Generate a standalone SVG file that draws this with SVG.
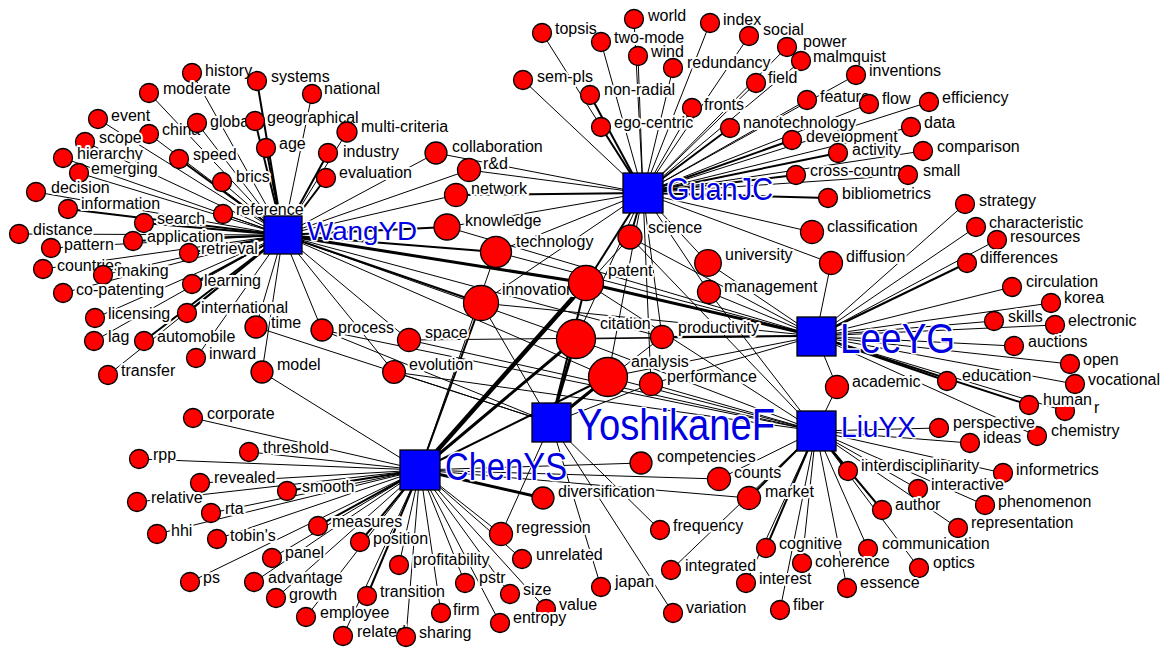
<svg xmlns="http://www.w3.org/2000/svg" width="1168" height="649" viewBox="0 0 1168 649">
<style>
  .bg { fill:#fff; }
  #connectors line { stroke:#000; stroke-width:1; }
  #connectors line.w2 { stroke-width:2; }
  #connectors line.w3 { stroke-width:3; }
  #connectors line.w4 { stroke-width:4.5; }
  .k circle { fill:#ff0000; stroke:#000; stroke-width:1.3; }
  .k text { font-family:"Liberation Sans", Arial, sans-serif; font-size:16px; fill:#000;
            stroke:#fff; stroke-width:4; stroke-linejoin:round; paint-order:stroke; }
  .a rect { fill:#0000ff; stroke:#000; stroke-width:1.3; }
  .a text { font-family:"Liberation Sans", Arial, sans-serif; fill:#0000e0;
            stroke:#fff; stroke-width:3; stroke-linejoin:round; paint-order:stroke; }
</style>
<rect class="bg" width="1168" height="649"/>

<!-- author-keyword links -->
<g id="connectors">
  <!-- WangYD -->
  <line x1="283" y1="235" x2="192" y2="73"/>
  <line class="w2" x1="283" y1="235" x2="257" y2="81"/>
  <line x1="283" y1="235" x2="312" y2="94"/>
  <line x1="283" y1="235" x2="149" y2="93"/>
  <line x1="283" y1="235" x2="98" y2="119"/>
  <line x1="283" y1="235" x2="149" y2="134"/>
  <line x1="283" y1="235" x2="197" y2="123"/>
  <line class="w2" x1="283" y1="235" x2="255" y2="121"/>
  <line x1="283" y1="235" x2="85" y2="142"/>
  <line x1="283" y1="235" x2="347" y2="132"/>
  <line class="w2" x1="283" y1="235" x2="266" y2="148"/>
  <line class="w2" x1="283" y1="235" x2="328" y2="153"/>
  <line x1="283" y1="235" x2="63" y2="158"/>
  <line class="w2" x1="283" y1="235" x2="179" y2="159"/>
  <line x1="283" y1="235" x2="79" y2="173"/>
  <line class="w2" x1="283" y1="235" x2="326" y2="178"/>
  <line x1="283" y1="235" x2="222" y2="182"/>
  <line x1="283" y1="235" x2="36" y2="192"/>
  <line class="w2" x1="283" y1="235" x2="68" y2="209"/>
  <line x1="283" y1="235" x2="223" y2="214"/>
  <line class="w2" x1="283" y1="235" x2="144" y2="223"/>
  <line x1="283" y1="235" x2="19" y2="234"/>
  <line class="w2" x1="283" y1="235" x2="133" y2="241"/>
  <line x1="283" y1="235" x2="51" y2="248"/>
  <line class="w2" x1="283" y1="235" x2="189" y2="253"/>
  <line x1="283" y1="235" x2="43" y2="269"/>
  <line x1="283" y1="235" x2="103" y2="275"/>
  <line class="w2" x1="283" y1="235" x2="192" y2="284"/>
  <line x1="283" y1="235" x2="63" y2="293"/>
  <line class="w2" x1="283" y1="235" x2="187" y2="313"/>
  <line x1="283" y1="235" x2="95" y2="318"/>
  <line x1="283" y1="235" x2="256" y2="327"/>
  <line x1="283" y1="235" x2="94" y2="341"/>
  <line class="w2" x1="283" y1="235" x2="144" y2="341"/>
  <line x1="283" y1="235" x2="196" y2="358"/>
  <line x1="283" y1="235" x2="262" y2="372"/>
  <line x1="283" y1="235" x2="108" y2="375"/>
  <line x1="283" y1="235" x2="436" y2="153"/>
  <line x1="283" y1="235" x2="469" y2="170"/>
  <line x1="283" y1="235" x2="456" y2="195"/>
  <line class="w2" x1="283" y1="235" x2="447" y2="227"/>
  <line class="w2" x1="283" y1="235" x2="496" y2="252"/>
  <line class="w2" x1="283" y1="235" x2="481" y2="303"/>
  <line class="w3" x1="283" y1="235" x2="586" y2="283"/>
  <line x1="283" y1="235" x2="322" y2="330"/>
  <line x1="283" y1="235" x2="409" y2="340"/>
  <line x1="283" y1="235" x2="576" y2="339"/>
  <line x1="283" y1="235" x2="394" y2="372"/>
  <line x1="283" y1="235" x2="608" y2="377"/>
  <line x1="283" y1="235" x2="662" y2="337"/>
  <!-- GuanJC -->
  <line x1="643" y1="193" x2="634" y2="19"/>
  <line x1="643" y1="193" x2="710" y2="23"/>
  <line x1="643" y1="193" x2="542" y2="33"/>
  <line x1="643" y1="193" x2="601" y2="42"/>
  <line x1="643" y1="193" x2="749" y2="36"/>
  <line x1="643" y1="193" x2="787" y2="47"/>
  <line x1="643" y1="193" x2="638" y2="56"/>
  <line x1="643" y1="193" x2="801" y2="61"/>
  <line x1="643" y1="193" x2="673" y2="68"/>
  <line x1="643" y1="193" x2="856" y2="75"/>
  <line x1="643" y1="193" x2="523" y2="80"/>
  <line x1="643" y1="193" x2="756" y2="83"/>
  <line class="w2" x1="643" y1="193" x2="590" y2="95"/>
  <line x1="643" y1="193" x2="807" y2="100"/>
  <line x1="643" y1="193" x2="869" y2="104"/>
  <line x1="643" y1="193" x2="929" y2="102"/>
  <line x1="643" y1="193" x2="692" y2="108"/>
  <line class="w2" x1="643" y1="193" x2="601" y2="127"/>
  <line class="w2" x1="643" y1="193" x2="730" y2="128"/>
  <line x1="643" y1="193" x2="911" y2="127"/>
  <line class="w2" x1="643" y1="193" x2="792" y2="140"/>
  <line class="w2" x1="643" y1="193" x2="838" y2="153"/>
  <line x1="643" y1="193" x2="923" y2="151"/>
  <line class="w2" x1="643" y1="193" x2="796" y2="175"/>
  <line x1="643" y1="193" x2="908" y2="175"/>
  <line class="w2" x1="643" y1="193" x2="828" y2="198"/>
  <line x1="643" y1="193" x2="436" y2="153"/>
  <line x1="643" y1="193" x2="469" y2="170"/>
  <line class="w2" x1="643" y1="193" x2="456" y2="195"/>
  <line x1="643" y1="193" x2="447" y2="227"/>
  <line x1="643" y1="193" x2="496" y2="252"/>
  <line x1="643" y1="193" x2="481" y2="303"/>
  <line class="w2" x1="643" y1="193" x2="586" y2="283"/>
  <line class="w2" x1="643" y1="193" x2="630" y2="237"/>
  <line x1="643" y1="193" x2="708" y2="263"/>
  <line x1="643" y1="193" x2="709" y2="292"/>
  <line x1="643" y1="193" x2="576" y2="339"/>
  <line x1="643" y1="193" x2="662" y2="337"/>
  <line x1="643" y1="193" x2="608" y2="377"/>
  <line x1="643" y1="193" x2="812" y2="232"/>
  <line x1="643" y1="193" x2="831" y2="263"/>
  <line x1="643" y1="193" x2="651" y2="384"/>
  <!-- LeeYG -->
  <line x1="816" y1="336" x2="965" y2="204"/>
  <line x1="816" y1="336" x2="976" y2="227"/>
  <line x1="816" y1="336" x2="997" y2="240"/>
  <line class="w2" x1="816" y1="336" x2="967" y2="263"/>
  <line x1="816" y1="336" x2="1012" y2="287"/>
  <line x1="816" y1="336" x2="1051" y2="303"/>
  <line x1="816" y1="336" x2="994" y2="321"/>
  <line x1="816" y1="336" x2="1055" y2="325"/>
  <line x1="816" y1="336" x2="1014" y2="346"/>
  <line x1="816" y1="336" x2="1070" y2="364"/>
  <line class="w2" x1="816" y1="336" x2="947" y2="381"/>
  <line x1="816" y1="336" x2="1075" y2="384"/>
  <line class="w2" x1="816" y1="336" x2="1029" y2="405"/>
  <line x1="816" y1="336" x2="1065" y2="411"/>
  <line x1="816" y1="336" x2="1037" y2="436"/>
  <line x1="816" y1="336" x2="837" y2="387"/>
  <line x1="816" y1="336" x2="831" y2="263"/>
  <line x1="816" y1="336" x2="708" y2="263"/>
  <line x1="816" y1="336" x2="709" y2="292"/>
  <line class="w2" x1="816" y1="336" x2="662" y2="337"/>
  <line class="w3" x1="816" y1="336" x2="586" y2="283"/>
  <line x1="816" y1="336" x2="481" y2="303"/>
  <line x1="816" y1="336" x2="496" y2="252"/>
  <line x1="816" y1="336" x2="447" y2="227"/>
  <line x1="816" y1="336" x2="576" y2="339"/>
  <line x1="816" y1="336" x2="608" y2="377"/>
  <line x1="816" y1="336" x2="630" y2="237"/>
  <line x1="816" y1="336" x2="651" y2="384"/>
  <line x1="816" y1="336" x2="409" y2="340"/>
  <!-- LiuYX -->
  <line x1="816" y1="431" x2="939" y2="428"/>
  <line x1="816" y1="431" x2="970" y2="443"/>
  <line class="w2" x1="816" y1="431" x2="848" y2="471"/>
  <line x1="816" y1="431" x2="1003" y2="473"/>
  <line x1="816" y1="431" x2="918" y2="489"/>
  <line x1="816" y1="431" x2="985" y2="505"/>
  <line class="w2" x1="816" y1="431" x2="882" y2="510"/>
  <line x1="816" y1="431" x2="958" y2="528"/>
  <line x1="816" y1="431" x2="868" y2="549"/>
  <line x1="816" y1="431" x2="802" y2="563"/>
  <line x1="816" y1="431" x2="919" y2="568"/>
  <line x1="816" y1="431" x2="847" y2="588"/>
  <line class="w2" x1="816" y1="431" x2="766" y2="548"/>
  <line x1="816" y1="431" x2="746" y2="583"/>
  <line x1="816" y1="431" x2="780" y2="610"/>
  <line x1="816" y1="431" x2="671" y2="570"/>
  <line class="w2" x1="816" y1="431" x2="749" y2="498"/>
  <line x1="816" y1="431" x2="719" y2="479"/>
  <line x1="816" y1="431" x2="837" y2="387"/>
  <line x1="816" y1="431" x2="409" y2="340"/>
  <line x1="816" y1="431" x2="394" y2="372"/>
  <line x1="816" y1="431" x2="586" y2="283"/>
  <line x1="816" y1="431" x2="576" y2="339"/>
  <line x1="816" y1="431" x2="608" y2="377"/>
  <line x1="816" y1="431" x2="630" y2="237"/>
  <line x1="816" y1="431" x2="651" y2="384"/>
  <line x1="816" y1="431" x2="709" y2="292"/>
  <line x1="816" y1="431" x2="322" y2="330"/>
  <!-- ChenYS -->
  <line x1="420" y1="470" x2="641" y2="463"/>
  <line x1="420" y1="470" x2="719" y2="479"/>
  <line x1="420" y1="470" x2="749" y2="498"/>
  <line class="w3" x1="420" y1="470" x2="543" y2="498"/>
  <line x1="420" y1="470" x2="501" y2="534"/>
  <line x1="420" y1="470" x2="522" y2="559"/>
  <line x1="420" y1="470" x2="193" y2="418"/>
  <line x1="420" y1="470" x2="249" y2="452"/>
  <line x1="420" y1="470" x2="139" y2="459"/>
  <line x1="420" y1="470" x2="200" y2="483"/>
  <line class="w2" x1="420" y1="470" x2="287" y2="491"/>
  <line x1="420" y1="470" x2="137" y2="502"/>
  <line x1="420" y1="470" x2="211" y2="513"/>
  <line class="w2" x1="420" y1="470" x2="318" y2="526"/>
  <line x1="420" y1="470" x2="157" y2="534"/>
  <line x1="420" y1="470" x2="217" y2="539"/>
  <line class="w2" x1="420" y1="470" x2="360" y2="542"/>
  <line x1="420" y1="470" x2="272" y2="558"/>
  <line x1="420" y1="470" x2="399" y2="565"/>
  <line x1="420" y1="470" x2="190" y2="582"/>
  <line x1="420" y1="470" x2="254" y2="582"/>
  <line x1="420" y1="470" x2="465" y2="583"/>
  <line x1="420" y1="470" x2="510" y2="594"/>
  <line class="w2" x1="420" y1="470" x2="367" y2="596"/>
  <line x1="420" y1="470" x2="276" y2="598"/>
  <line x1="420" y1="470" x2="546" y2="609"/>
  <line x1="420" y1="470" x2="441" y2="613"/>
  <line x1="420" y1="470" x2="306" y2="617"/>
  <line x1="420" y1="470" x2="500" y2="623"/>
  <line x1="420" y1="470" x2="343" y2="636"/>
  <line x1="420" y1="470" x2="406" y2="637"/>
  <line x1="420" y1="470" x2="262" y2="372"/>
  <line x1="420" y1="470" x2="496" y2="252"/>
  <line class="w2" x1="420" y1="470" x2="481" y2="303"/>
  <line class="w4" x1="420" y1="470" x2="586" y2="283"/>
  <line class="w3" x1="420" y1="470" x2="576" y2="339"/>
  <line class="w2" x1="420" y1="470" x2="608" y2="377"/>
  <line x1="420" y1="470" x2="630" y2="237"/>
  <!-- YoshikaneF -->
  <line x1="551" y1="423" x2="256" y2="327"/>
  <line x1="551" y1="423" x2="322" y2="330"/>
  <line x1="551" y1="423" x2="481" y2="303"/>
  <line class="w2" x1="551" y1="423" x2="586" y2="283"/>
  <line class="w3" x1="551" y1="423" x2="576" y2="339"/>
  <line class="w3" x1="551" y1="423" x2="608" y2="377"/>
  <line x1="551" y1="423" x2="651" y2="384"/>
  <line x1="551" y1="423" x2="662" y2="337"/>
  <line x1="551" y1="423" x2="660" y2="530"/>
  <line x1="551" y1="423" x2="601" y2="587"/>
  <line x1="551" y1="423" x2="673" y2="613"/>
  <line x1="551" y1="423" x2="501" y2="534"/>
  <line x1="551" y1="423" x2="394" y2="372"/>
</g>

<!-- keyword nodes -->
<g id="n-history" class="k"><circle cx="192" cy="73" r="9.5"/><text x="205" y="76">history</text></g>
<g id="n-systems" class="k"><circle cx="257" cy="81" r="9.5"/><text x="271" y="82">systems</text></g>
<g id="n-national" class="k"><circle cx="312" cy="94" r="9.5"/><text x="324" y="94">national</text></g>
<g id="n-moderate" class="k"><circle cx="149" cy="93" r="9.5"/><text x="163" y="94">moderate</text></g>
<g id="n-event" class="k"><circle cx="98" cy="119" r="9.5"/><text x="111" y="121">event</text></g>
<g id="n-china" class="k"><circle cx="149" cy="134" r="9.5"/><text x="162" y="135">china</text></g>
<g id="n-global" class="k"><circle cx="197" cy="123" r="9.5"/><text x="210" y="127">global</text></g>
<g id="n-geographical" class="k"><circle cx="255" cy="121" r="9.5"/><text x="267" y="123">geographical</text></g>
<g id="n-scope" class="k"><circle cx="85" cy="142" r="9.5"/><text x="99" y="143">scope</text></g>
<g id="n-multi-criteria" class="k"><circle cx="347" cy="132" r="10"/><text x="361" y="132">multi-criteria</text></g>
<g id="n-age" class="k"><circle cx="266" cy="148" r="9.5"/><text x="279" y="149">age</text></g>
<g id="n-industry" class="k"><circle cx="328" cy="153" r="9.5"/><text x="343" y="157">industry</text></g>
<g id="n-hierarchy" class="k"><circle cx="63" cy="158" r="9.5"/><text x="77" y="159">hierarchy</text></g>
<g id="n-speed" class="k"><circle cx="179" cy="159" r="9.5"/><text x="193" y="160">speed</text></g>
<g id="n-emerging" class="k"><circle cx="79" cy="173" r="9.5"/><text x="91" y="174">emerging</text></g>
<g id="n-evaluation" class="k"><circle cx="326" cy="178" r="9.5"/><text x="339" y="178">evaluation</text></g>
<g id="n-brics" class="k"><circle cx="222" cy="182" r="9.5"/><text x="236" y="182">brics</text></g>
<g id="n-decision" class="k"><circle cx="36" cy="192" r="9.5"/><text x="51" y="193">decision</text></g>
<g id="n-information" class="k"><circle cx="68" cy="209" r="9.5"/><text x="81" y="209">information</text></g>
<g id="n-reference" class="k"><circle cx="223" cy="214" r="9.5"/><text x="236" y="215">reference</text></g>
<g id="n-search" class="k"><circle cx="144" cy="223" r="9.5"/><text x="157" y="224">search</text></g>
<g id="n-distance" class="k"><circle cx="19" cy="234" r="9.5"/><text x="33" y="235">distance</text></g>
<g id="n-application" class="k"><circle cx="133" cy="241" r="9.5"/><text x="147" y="242">application</text></g>
<g id="n-pattern" class="k"><circle cx="51" cy="248" r="9.5"/><text x="64" y="250">pattern</text></g>
<g id="n-retrieval" class="k"><circle cx="189" cy="253" r="9.5"/><text x="201" y="254">retrieval</text></g>
<g id="n-countries" class="k"><circle cx="43" cy="269" r="9.5"/><text x="57" y="271">countries</text></g>
<g id="n-making" class="k"><circle cx="103" cy="275" r="9.5"/><text x="117" y="276">making</text></g>
<g id="n-learning" class="k"><circle cx="192" cy="284" r="9.5"/><text x="204" y="286">learning</text></g>
<g id="n-co-patenting" class="k"><circle cx="63" cy="293" r="9.5"/><text x="76" y="295">co-patenting</text></g>
<g id="n-international" class="k"><circle cx="187" cy="313" r="9.5"/><text x="201" y="313">international</text></g>
<g id="n-licensing" class="k"><circle cx="95" cy="318" r="9.5"/><text x="108" y="319">licensing</text></g>
<g id="n-time" class="k"><circle cx="256" cy="327" r="11"/><text x="271" y="328">time</text></g>
<g id="n-lag" class="k"><circle cx="94" cy="341" r="9.5"/><text x="108" y="342">lag</text></g>
<g id="n-automobile" class="k"><circle cx="144" cy="341" r="9.5"/><text x="157" y="342">automobile</text></g>
<g id="n-inward" class="k"><circle cx="196" cy="358" r="9.5"/><text x="209" y="359">inward</text></g>
<g id="n-model" class="k"><circle cx="262" cy="372" r="11"/><text x="277" y="370">model</text></g>
<g id="n-transfer" class="k"><circle cx="108" cy="375" r="9.5"/><text x="121" y="376">transfer</text></g>

<g id="n-collaboration" class="k"><circle cx="436" cy="153" r="11"/><text x="452" y="152">collaboration</text></g>
<g id="n-rd" class="k"><circle cx="469" cy="170" r="11.5"/><text x="483" y="169">r&amp;d</text></g>
<g id="n-network" class="k"><circle cx="456" cy="195" r="11.5"/><text x="471" y="194">network</text></g>
<g id="n-knowledge" class="k"><circle cx="447" cy="227" r="13"/><text x="465" y="226">knowledge</text></g>
<g id="n-technology" class="k"><circle cx="496" cy="252" r="15.5"/><text x="516" y="247">technology</text></g>
<g id="n-innovation" class="k"><circle cx="481" cy="303" r="17.5"/><text x="502" y="295">innovation</text></g>
<g id="n-patent" class="k"><circle cx="586" cy="283" r="17.5"/><text x="608" y="276">patent</text></g>
<g id="n-science" class="k"><circle cx="630" cy="237" r="12"/><text x="648" y="233">science</text></g>
<g id="n-university" class="k"><circle cx="708" cy="263" r="13.3"/><text x="725" y="260">university</text></g>
<g id="n-management" class="k"><circle cx="709" cy="292" r="11.5"/><text x="724" y="292">management</text></g>
<g id="n-process" class="k"><circle cx="322" cy="330" r="11"/><text x="338" y="333">process</text></g>
<g id="n-space" class="k"><circle cx="409" cy="340" r="11.5"/><text x="425" y="338">space</text></g>
<g id="n-citation" class="k"><circle cx="576" cy="339" r="19.5"/><text x="600" y="329">citation</text></g>
<g id="n-productivity" class="k"><circle cx="662" cy="337" r="11.5"/><text x="678" y="333">productivity</text></g>
<g id="n-evolution" class="k"><circle cx="394" cy="372" r="11.3"/><text x="409" y="370">evolution</text></g>
<g id="n-analysis" class="k"><circle cx="608" cy="377" r="19.5"/><text x="631" y="367">analysis</text></g>
<g id="n-performance" class="k"><circle cx="651" cy="384" r="11.5"/><text x="667" y="382">performance</text></g>
<g id="n-classification" class="k"><circle cx="812" cy="232" r="11.5"/><text x="827" y="232">classification</text></g>
<g id="n-diffusion" class="k"><circle cx="831" cy="263" r="11.5"/><text x="846" y="262">diffusion</text></g>
<g id="n-academic" class="k"><circle cx="837" cy="387" r="11.5"/><text x="852" y="387">academic</text></g>

<g id="n-world" class="k"><circle cx="634" cy="19" r="9.5"/><text x="648" y="21">world</text></g>
<g id="n-index" class="k"><circle cx="710" cy="23" r="9.5"/><text x="723" y="25">index</text></g>
<g id="n-topsis" class="k"><circle cx="542" cy="33" r="9.5"/><text x="555" y="34">topsis</text></g>
<g id="n-two-mode" class="k"><circle cx="601" cy="42" r="9.5"/><text x="614" y="43">two-mode</text></g>
<g id="n-power" class="k"><circle cx="787" cy="47" r="9.5"/><text x="803" y="47">power</text></g>
<g id="n-social" class="k"><circle cx="749" cy="36" r="9.5"/><text x="763" y="35">social</text></g>
<g id="n-wind" class="k"><circle cx="638" cy="56" r="9.5"/><text x="651" y="57">wind</text></g>
<g id="n-malmquist" class="k"><circle cx="801" cy="61" r="9.5"/><text x="813" y="62">malmquist</text></g>
<g id="n-redundancy" class="k"><circle cx="673" cy="68" r="9.5"/><text x="687" y="68">redundancy</text></g>
<g id="n-inventions" class="k"><circle cx="856" cy="75" r="9.5"/><text x="869" y="76">inventions</text></g>
<g id="n-sem-pls" class="k"><circle cx="523" cy="80" r="9.5"/><text x="537" y="82">sem-pls</text></g>
<g id="n-field" class="k"><circle cx="756" cy="83" r="9.5"/><text x="768" y="83">field</text></g>
<g id="n-non-radial" class="k"><circle cx="590" cy="95" r="9.5"/><text x="604" y="95">non-radial</text></g>
<g id="n-feature" class="k"><circle cx="807" cy="100" r="9.5"/><text x="820" y="102">feature</text></g>
<g id="n-flow" class="k"><circle cx="869" cy="104" r="9.5"/><text x="882" y="104">flow</text></g>
<g id="n-efficiency" class="k"><circle cx="929" cy="102" r="9.5"/><text x="942" y="103">efficiency</text></g>
<g id="n-fronts" class="k"><circle cx="692" cy="108" r="9.5"/><text x="704" y="110">fronts</text></g>
<g id="n-ego-centric" class="k"><circle cx="601" cy="127" r="9.5"/><text x="614" y="128">ego-centric</text></g>
<g id="n-development" class="k"><circle cx="792" cy="140" r="9.5"/><text x="806" y="142">development</text></g>
<g id="n-nanotechnology" class="k"><circle cx="730" cy="128" r="9.5"/><text x="743" y="128">nanotechnology</text></g>
<g id="n-data" class="k"><circle cx="911" cy="127" r="9.5"/><text x="924" y="128">data</text></g>
<g id="n-activity" class="k"><circle cx="838" cy="153" r="9.5"/><text x="852" y="155">activity</text></g>
<g id="n-comparison" class="k"><circle cx="923" cy="151" r="9.5"/><text x="937" y="152">comparison</text></g>
<g id="n-cross-country" class="k"><circle cx="796" cy="175" r="9.5"/><text x="810" y="176">cross-country</text></g>
<g id="n-small" class="k"><circle cx="908" cy="175" r="9.5"/><text x="923" y="176">small</text></g>
<g id="n-bibliometrics" class="k"><circle cx="828" cy="198" r="9.5"/><text x="842" y="199">bibliometrics</text></g>

<g id="n-strategy" class="k"><circle cx="965" cy="204" r="9.5"/><text x="979" y="206">strategy</text></g>
<g id="n-characteristic" class="k"><circle cx="976" cy="227" r="9.5"/><text x="989" y="228">characteristic</text></g>
<g id="n-resources" class="k"><circle cx="997" cy="240" r="9.5"/><text x="1010" y="242">resources</text></g>
<g id="n-differences" class="k"><circle cx="967" cy="263" r="9.5"/><text x="980" y="263">differences</text></g>
<g id="n-circulation" class="k"><circle cx="1012" cy="287" r="9.5"/><text x="1026" y="287">circulation</text></g>
<g id="n-korea" class="k"><circle cx="1051" cy="303" r="9.5"/><text x="1064" y="303">korea</text></g>
<g id="n-skills" class="k"><circle cx="994" cy="321" r="9.5"/><text x="1008" y="322">skills</text></g>
<g id="n-electronic" class="k"><circle cx="1055" cy="325" r="9.5"/><text x="1068" y="326">electronic</text></g>
<g id="n-auctions" class="k"><circle cx="1014" cy="346" r="9.5"/><text x="1028" y="347">auctions</text></g>
<g id="n-open" class="k"><circle cx="1070" cy="364" r="9.5"/><text x="1083" y="365">open</text></g>
<g id="n-education" class="k"><circle cx="947" cy="381" r="9.5"/><text x="962" y="381">education</text></g>
<g id="n-vocational" class="k"><circle cx="1075" cy="384" r="9.5"/><text x="1088" y="385">vocational</text></g>
<g id="n-r" class="k"><circle cx="1065" cy="411" r="9.5"/><text x="1094" y="413">r</text></g>
<g id="n-human" class="k"><circle cx="1029" cy="405" r="9.5"/><text x="1043" y="405">human</text></g>
<g id="n-chemistry" class="k"><circle cx="1037" cy="436" r="9.5"/><text x="1051" y="436">chemistry</text></g>

<g id="n-perspective" class="k"><circle cx="939" cy="428" r="9.5"/><text x="953" y="428">perspective</text></g>
<g id="n-ideas" class="k"><circle cx="970" cy="443" r="9.5"/><text x="983" y="443">ideas</text></g>
<g id="n-interdisciplinarity" class="k"><circle cx="848" cy="471" r="9.5"/><text x="861" y="471">interdisciplinarity</text></g>
<g id="n-informetrics" class="k"><circle cx="1003" cy="473" r="9.5"/><text x="1016" y="475">informetrics</text></g>
<g id="n-interactive" class="k"><circle cx="918" cy="489" r="9.5"/><text x="931" y="490">interactive</text></g>
<g id="n-phenomenon" class="k"><circle cx="985" cy="505" r="9.5"/><text x="998" y="507">phenomenon</text></g>
<g id="n-author" class="k"><circle cx="882" cy="510" r="9.5"/><text x="895" y="510">author</text></g>
<g id="n-representation" class="k"><circle cx="958" cy="528" r="9.5"/><text x="971" y="528">representation</text></g>
<g id="n-communication" class="k"><circle cx="868" cy="549" r="9.5"/><text x="882" y="549">communication</text></g>
<g id="n-coherence" class="k"><circle cx="802" cy="563" r="9.5"/><text x="815" y="567">coherence</text></g>
<g id="n-optics" class="k"><circle cx="919" cy="568" r="9.5"/><text x="933" y="568">optics</text></g>
<g id="n-essence" class="k"><circle cx="847" cy="588" r="9.5"/><text x="860" y="588">essence</text></g>
<g id="n-cognitive" class="k"><circle cx="766" cy="548" r="9.5"/><text x="779" y="549">cognitive</text></g>
<g id="n-interest" class="k"><circle cx="746" cy="583" r="9.5"/><text x="759" y="584">interest</text></g>
<g id="n-fiber" class="k"><circle cx="780" cy="610" r="9.5"/><text x="793" y="610">fiber</text></g>
<g id="n-integrated" class="k"><circle cx="671" cy="570" r="9.5"/><text x="685" y="571">integrated</text></g>

<g id="n-competencies" class="k"><circle cx="641" cy="463" r="11"/><text x="657" y="462">competencies</text></g>
<g id="n-counts" class="k"><circle cx="719" cy="479" r="11.5"/><text x="734" y="478">counts</text></g>
<g id="n-market" class="k"><circle cx="749" cy="498" r="11.5"/><text x="765" y="497">market</text></g>
<g id="n-diversification" class="k"><circle cx="543" cy="498" r="11"/><text x="558" y="497">diversification</text></g>
<g id="n-frequency" class="k"><circle cx="660" cy="530" r="9.5"/><text x="673" y="531">frequency</text></g>
<g id="n-regression" class="k"><circle cx="501" cy="534" r="11.5"/><text x="516" y="533">regression</text></g>
<g id="n-unrelated" class="k"><circle cx="522" cy="559" r="9.5"/><text x="536" y="560">unrelated</text></g>
<g id="n-japan" class="k"><circle cx="601" cy="587" r="9.5"/><text x="615" y="587">japan</text></g>
<g id="n-variation" class="k"><circle cx="673" cy="613" r="9.5"/><text x="686" y="613">variation</text></g>
<g id="n-corporate" class="k"><circle cx="193" cy="418" r="9.5"/><text x="207" y="419">corporate</text></g>
<g id="n-threshold" class="k"><circle cx="249" cy="452" r="9.5"/><text x="263" y="453">threshold</text></g>
<g id="n-rpp" class="k"><circle cx="139" cy="459" r="9.5"/><text x="153" y="460">rpp</text></g>
<g id="n-revealed" class="k"><circle cx="200" cy="483" r="9.5"/><text x="214" y="483">revealed</text></g>
<g id="n-smooth" class="k"><circle cx="287" cy="491" r="9.5"/><text x="302" y="492">smooth</text></g>
<g id="n-relative" class="k"><circle cx="137" cy="502" r="9.5"/><text x="151" y="503">relative</text></g>
<g id="n-rta" class="k"><circle cx="211" cy="513" r="9.5"/><text x="225" y="514">rta</text></g>
<g id="n-measures" class="k"><circle cx="318" cy="526" r="9.5"/><text x="332" y="527">measures</text></g>
<g id="n-hhi" class="k"><circle cx="157" cy="534" r="9.5"/><text x="171" y="536">hhi</text></g>
<g id="n-tobins" class="k"><circle cx="217" cy="539" r="9.5"/><text x="230" y="541">tobin's</text></g>
<g id="n-position" class="k"><circle cx="360" cy="542" r="9.5"/><text x="373" y="544">position</text></g>
<g id="n-panel" class="k"><circle cx="272" cy="558" r="9.5"/><text x="285" y="558">panel</text></g>
<g id="n-profitability" class="k"><circle cx="399" cy="565" r="9.5"/><text x="413" y="565">profitability</text></g>
<g id="n-ps" class="k"><circle cx="190" cy="582" r="9.5"/><text x="203" y="583">ps</text></g>
<g id="n-advantage" class="k"><circle cx="254" cy="582" r="9.5"/><text x="268" y="583">advantage</text></g>
<g id="n-pstr" class="k"><circle cx="465" cy="583" r="9.5"/><text x="479" y="583">pstr</text></g>
<g id="n-size" class="k"><circle cx="510" cy="594" r="9.5"/><text x="523" y="595">size</text></g>
<g id="n-transition" class="k"><circle cx="367" cy="596" r="9.5"/><text x="380" y="597">transition</text></g>
<g id="n-growth" class="k"><circle cx="276" cy="598" r="9.5"/><text x="289" y="600">growth</text></g>
<g id="n-value" class="k"><circle cx="546" cy="609" r="9.5"/><text x="559" y="610">value</text></g>
<g id="n-firm" class="k"><circle cx="441" cy="613" r="9.5"/><text x="453" y="615">firm</text></g>
<g id="n-employee" class="k"><circle cx="306" cy="617" r="9.5"/><text x="320" y="618">employee</text></g>
<g id="n-entropy" class="k"><circle cx="500" cy="623" r="9.5"/><text x="513" y="623">entropy</text></g>
<g id="n-related" class="k"><circle cx="343" cy="636" r="9.5"/><text x="357" y="637">related</text></g>
<g id="n-sharing" class="k"><circle cx="406" cy="637" r="9.5"/><text x="419" y="638">sharing</text></g>

<!-- author nodes -->
<g id="a-WangYD" class="a"><rect x="264" y="216" width="38" height="38"/><text x="307" y="239.5" font-size="26" textLength="110" lengthAdjust="spacingAndGlyphs">WangYD</text></g>
<g id="a-GuanJC" class="a"><rect x="623" y="173" width="40" height="40"/><text x="667" y="199.5" font-size="30.5" textLength="106" lengthAdjust="spacingAndGlyphs">GuanJC</text></g>
<g id="a-LeeYG" class="a"><rect x="797" y="317" width="39" height="39"/><text x="840" y="352.7" font-size="43" textLength="115" lengthAdjust="spacingAndGlyphs">LeeYG</text></g>
<g id="a-LiuYX" class="a"><rect x="797" y="411" width="39" height="40"/><text x="841" y="436.7" font-size="30" textLength="75" lengthAdjust="spacingAndGlyphs">LiuYX</text></g>
<g id="a-YoshikaneF" class="a"><rect x="532" y="403" width="39" height="39"/><text x="577" y="440" font-size="44" textLength="198" lengthAdjust="spacingAndGlyphs">YoshikaneF</text></g>
<g id="a-ChenYS" class="a"><rect x="400" y="450" width="40" height="40"/><text x="445" y="480" font-size="38" textLength="122" lengthAdjust="spacingAndGlyphs">ChenYS</text></g>
</svg>
